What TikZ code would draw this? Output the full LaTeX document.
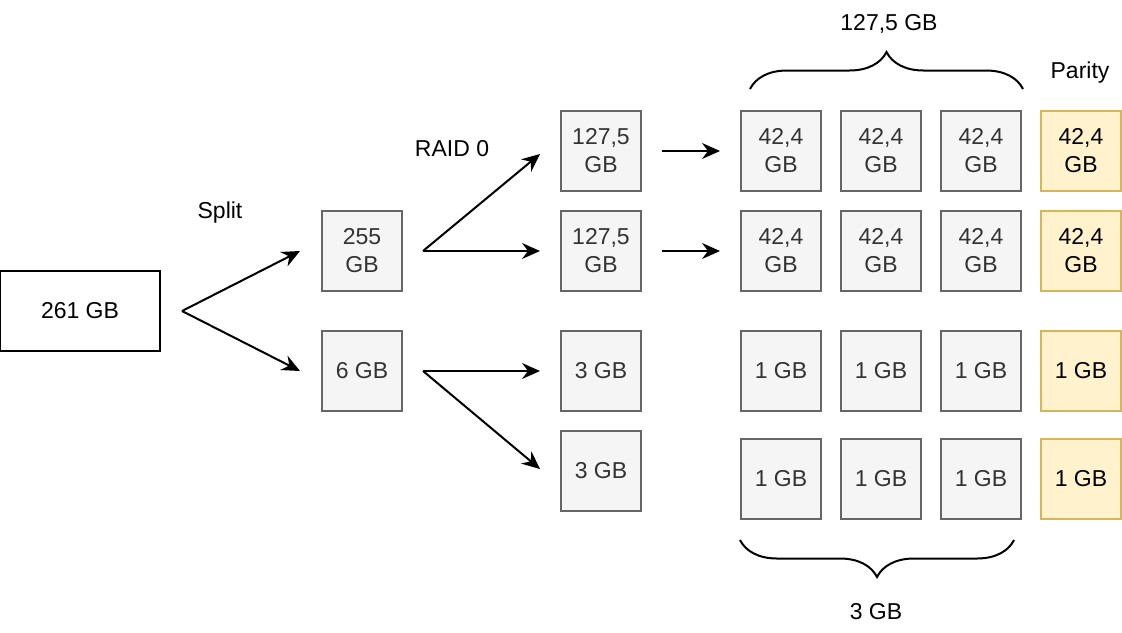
\documentclass[tikz,border=0pt]{standalone}
\usepackage{fontspec}
\setmainfont{Liberation Sans}
\usetikzlibrary{positioning,arrows.meta,decorations.pathreplacing,calc}
\definecolor{boxgray}{HTML}{F5F5F5}
\definecolor{linegray}{HTML}{666666}
\definecolor{txtgray}{HTML}{333333}
\definecolor{parfill}{HTML}{FFF2CC}
\definecolor{parline}{HTML}{D6B656}
\tikzset{
  blk/.style  = { draw=linegray, fill=boxgray, text=txtgray, line width=1pt, minimum size=40pt,
    inner sep=0pt, align=center, font=\fontsize{11.5}{14}\selectfont },
  par/.style  = { blk, draw=parline, fill=parfill, text=black },
  src/.style  = { blk, draw=black, fill=white, text=black, minimum width=80pt },
  arr/.style  = { -{Stealth[length=9pt,width=8pt,inset=3pt]}, line width=1pt },
  brc/.style  = { decorate, decoration={brace,amplitude=18.5pt}, line width=1pt },
  lbl/.style  = { font=\fontsize{11.5}{14}\selectfont }
}

\begin{document}
\begin{tikzpicture}[x=0.5pt,y=-0.5pt,on grid,node distance=50pt]
      \useasboundingbox (0,0) rectangle (1122,632);
      % split
      \node[src] (all) at (80,311) {261 GB};
      \node[blk] (big) at (362,251) {255\\GB};
      \node[blk, below=60pt of big] (small) {6 GB};
      % raid 0
      \node[blk] (r1) at (601,151) {127,5\\GB};
      \node[blk, below=of r1] (r2) {127,5\\GB};
      \node[blk, below=60pt of r2] (s1) {3 GB};
      \node[blk, below=of s1] (s2) {3 GB};
      % disks + parity
      \node[blk] (a1) at (781,151) {42,4\\GB};
      \node[blk, right=of a1] (a2) {42,4\\GB};
      \node[blk, right=of a2] (a3) {42,4\\GB};
      \node[par, right=of a3] (ap) {42,4\\GB};
      \node[blk, below=of a1] (b1) {42,4\\GB};
      \node[blk, right=of b1] (b2) {42,4\\GB};
      \node[blk, right=of b2] (b3) {42,4\\GB};
      \node[par, right=of b3] (bp) {42,4\\GB};
      \node[blk, below=60pt of b1] (c1) {1 GB};
      \node[blk, right=of c1] (c2) {1 GB};
      \node[blk, right=of c2] (c3) {1 GB};
      \node[par, right=of c3] (cp) {1 GB};
      \node[blk, below=54pt of c1] (d1) {1 GB};
      \node[blk, right=of d1] (d2) {1 GB};
      \node[blk, right=of d2] (d3) {1 GB};
      \node[par, right=of d3] (dp) {1 GB};
      % labels
      \node[lbl] (tsplit) at (220,213) {Split};
      \node[lbl] (traid) at (452,149) {RAID 0};
      \node[lbl] (ttop) at (889,24) {127,5 GB};
      \node[lbl] (tpar) at (1080,73) {Parity};
      \node[lbl] (tbot) at (876,612) {3 GB};
      % arrow ends
      \coordinate (f0) at ($(all.east)+(21,0)$);
      \coordinate (f1) at ($(big.east)+(20,0)$);
      \coordinate (f2) at ($(small.east)+(20,0)$);
      \coordinate (f3) at ($(r1.east)+(20,0)$);
      \coordinate (f4) at ($(r2.east)+(20,0)$);
      \coordinate (e0) at ($(big.west)+(-21,0)$);
      \coordinate (e1) at ($(small.west)+(-21,0)$);
      \coordinate (e2) at ($(r1.west)+(-20,3)$);
      \coordinate (e3) at ($(r2.west)+(-20,0)$);
      \coordinate (e4) at ($(s1.west)+(-20,0)$);
      \coordinate (e5) at ($(s2.west)+(-20,-2)$);
      \coordinate (e6) at ($(a1.west)+(-20,0)$);
      \coordinate (e7) at ($(b1.west)+(-20,0)$);
      \path[arr] (f0) edge (e0) (f0) edge (e1);
      \path[arr] (f1) edge (e2) (f1) edge (e3);
      \path[arr] (f2) edge (e4) (f2) edge (e5);
      \path[arr] (f3) edge (e6);
      \path[arr] (f4) edge (e7);
      % braces
      \draw[brc] ($(a1.north west)+(10,-21)$) -- ($(a3.north east)+(1,-21)$);
      \draw[brc] ($(d3.south east)+(-8,20)$) -- ($(d1.south west)+(0,20)$);
    \end{tikzpicture}
\end{document}
